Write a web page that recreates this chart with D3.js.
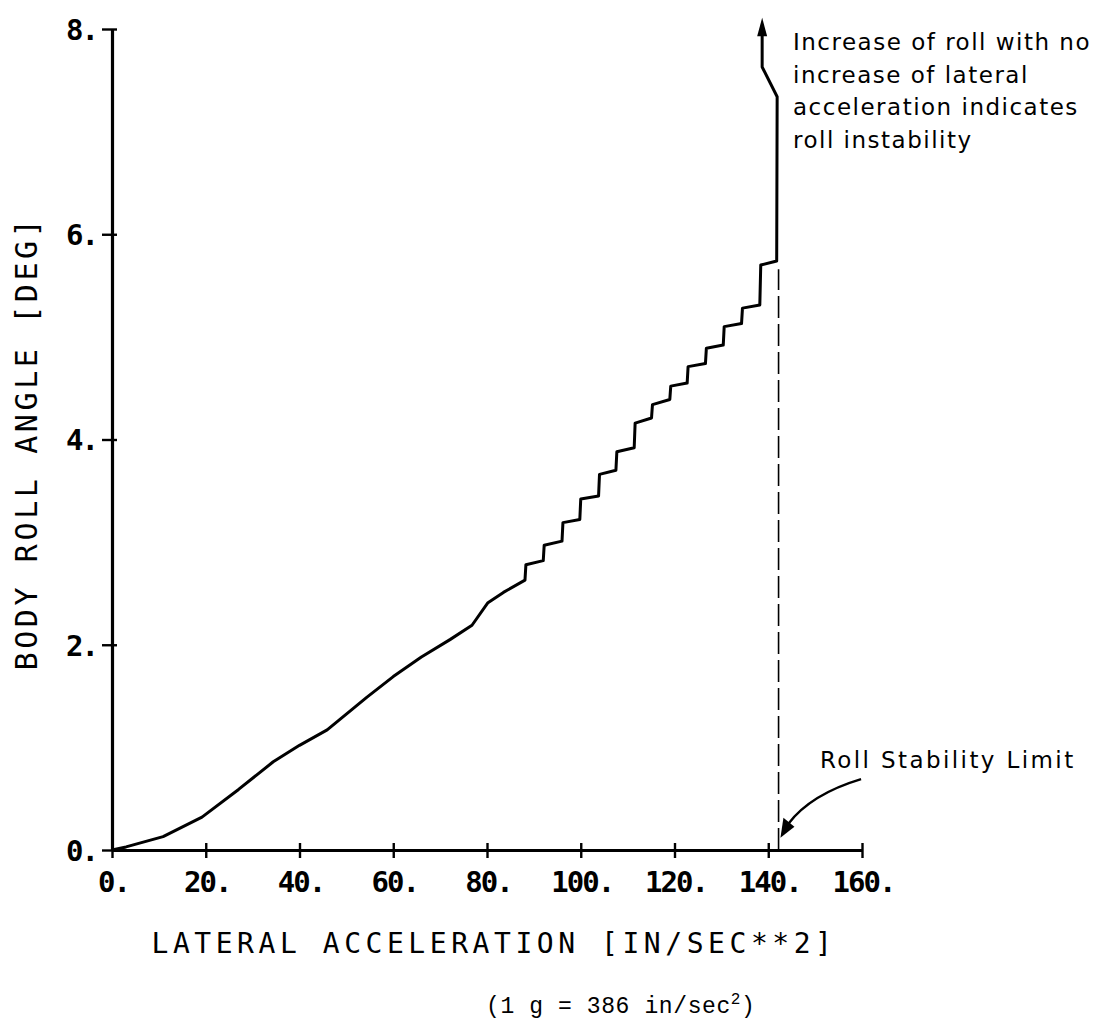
<!DOCTYPE html>
<html>
<head>
<meta charset="utf-8">
<script src="https://cdn.jsdelivr.net/npm/d3@7"></script>
<style>
  body { margin: 0; background: #fff; }
</style>
</head>
<body>
<div id="wrapper"></div>
<script>
// lateral acceleration (in/sec^2) and body roll angle (deg)
const accel = [0, 3, 10.9, 19.2, 27, 34.4, 40, 45.9, 54.4, 60, 66, 72.1, 76.8, 80.2, 83.5, 88.1,
    88.3, 92, 92.2, 96, 96.2, 99.8, 100, 103.8, 104, 107.5, 107.7, 111.4, 111.6, 115.1,
    115.3, 119, 119.2, 122.7, 122.9, 126.6, 126.8, 130.4, 130.6, 134.3, 134.5, 138.2,
    138.4, 141.8, 141.9, 138.7, 138.7];
const roll = [0, 0.03, 0.13, 0.32, 0.59, 0.86, 1.02, 1.17, 1.49, 1.69, 1.88, 2.05, 2.19, 2.41, 2.51, 2.63,
    2.78, 2.82, 2.97, 3.01, 3.19, 3.22, 3.42, 3.45, 3.66, 3.70, 3.88, 3.92, 4.16, 4.21,
    4.34, 4.39, 4.52, 4.55, 4.71, 4.74, 4.89, 4.92, 5.10, 5.13, 5.28, 5.31,
    5.70, 5.74, 7.34, 7.63, 7.95];
const arrowTip = 8.11;          // top of the arrowhead on the roll line
const stabilityLimit = 142.2;   // dashed line
const xTicks = [0, 20, 40, 60, 80, 100, 120, 140, 160];
const yTicks = [0, 2, 4, 6, 8];
const noteLines = ["Increase of roll with no", "increase of lateral", "acceleration indicates", "roll instability"];

const dimension = {
    width: 1095,
    height: 1032,
    margin: { top: 29, left: 112, bottom: 182, right: 233 }
};
dimension.boundedWidth = dimension.width - dimension.margin.left - dimension.margin.right;
dimension.boundedHeight = dimension.height - dimension.margin.top - dimension.margin.bottom;

const svg = d3.select("#wrapper").append("svg")
    .attr("width", dimension.width)
    .attr("height", dimension.height)
    .style("background", "#fff");

const bounded = svg.append("g")
    .attr("transform", `translate(${dimension.margin.left},${dimension.margin.top})`);

const xScaler = d3.scaleLinear().domain([0, 160]).range([0, dimension.boundedWidth]);
const yScaler = d3.scaleLinear().domain([0, 8]).range([dimension.boundedHeight, 0]);

const tickFont = "'DejaVu Sans Mono', monospace";

// x axis
const xAxis = bounded.append("g")
    .attr("transform", `translate(0,${dimension.boundedHeight})`)
    .call(d3.axisBottom(xScaler).tickValues(xTicks).tickSizeOuter(0).tickFormat(d => d + "."));
xAxis.select(".domain").attr("stroke", "#000").attr("stroke-width", 3.2);
xAxis.selectAll(".tick line").attr("y1", -7).attr("y2", 8).attr("stroke", "#000").attr("stroke-width", 2.4);
xAxis.selectAll(".tick text")
    .attr("y", 42).attr("dy", 0).attr("dx", 1)
    .attr("font-family", tickFont).attr("font-weight", "bold").attr("font-size", 29)
    .attr("letter-spacing", -2)
    .attr("fill", "#000");

// y axis
const yAxis = bounded.append("g")
    .call(d3.axisLeft(yScaler).tickValues(yTicks).tickSizeOuter(0).tickFormat(d => d + "."));
yAxis.select(".domain").attr("stroke", "#000").attr("stroke-width", 3.2);
yAxis.selectAll(".tick line").attr("x1", -10).attr("x2", 5).attr("stroke", "#000").attr("stroke-width", 2.4);
yAxis.selectAll(".tick text")
    .attr("x", -15).attr("dy", "0.36em")
    .attr("font-family", tickFont).attr("font-weight", "bold").attr("font-size", 29)
    .attr("letter-spacing", -2)
    .attr("fill", "#000");

// dashed roll stability limit
bounded.append("line")
    .attr("x1", xScaler(stabilityLimit)).attr("x2", xScaler(stabilityLimit))
    .attr("y1", yScaler(0)).attr("y2", yScaler(5.66))
    .attr("stroke", "#000").attr("stroke-width", 1.6)
    .attr("stroke-dasharray", "22,6");

// roll curve
const points = accel.map((a, i) => [a, roll[i]]);
const rollLine = d3.line()
    .x(d => xScaler(d[0]))
    .y(d => yScaler(d[1]));

bounded.append("path")
    .attr("d", rollLine(points))
    .attr("fill", "none")
    .attr("stroke", "#000")
    .attr("stroke-width", 3)
    .attr("stroke-linejoin", "round");

// arrowhead on top of the roll line
const last = points[points.length - 1];
const ax = xScaler(last[0]);
bounded.append("path")
    .attr("d", `M${ax},${yScaler(arrowTip)} L${ax - 5},${yScaler(last[1]) + 2} L${ax + 5},${yScaler(last[1]) + 2} Z`)
    .attr("fill", "#000");

// annotation text
const noteFont = "'DejaVu Sans', sans-serif";
const note = svg.append("text")
    .attr("font-family", noteFont).attr("font-size", 23)
    .attr("letter-spacing", 1.5)
    .attr("fill", "#000");
noteLines.forEach((t, i) => {
    note.append("tspan").attr("x", 793).attr("y", 50 + i * 32.5).text(t);
});

svg.append("text")
    .attr("x", 820).attr("y", 768)
    .attr("font-family", noteFont).attr("font-size", 23)
    .attr("letter-spacing", 2.4)
    .attr("fill", "#000")
    .text("Roll Stability Limit");

// curved arrow to the stability limit
const tip = [xScaler(142.6) + dimension.margin.left, yScaler(0.12) + dimension.margin.top];
const start = [xScaler(159.8) + dimension.margin.left, yScaler(0.69) + dimension.margin.top];
svg.append("path")
    .attr("d", `M${start[0]},${start[1]} Q${start[0] - 50},${start[1] + 15} ${tip[0] + 8},${tip[1] - 14}`)
    .attr("fill", "none").attr("stroke", "#000").attr("stroke-width", 2.4);
svg.append("path")
    .attr("d", `M${tip[0]},${tip[1]} L${tip[0] + 3},${tip[1] - 20} L${tip[0] + 14},${tip[1] - 11} Z`)
    .attr("fill", "#000");

// axis titles
svg.append("text")
    .attr("transform", "translate(37,443) rotate(-90)")
    .attr("text-anchor", "middle")
    .attr("font-family", tickFont).attr("font-size", 30)
    .attr("letter-spacing", 3.6)
    .attr("fill", "#000")
    .text("BODY ROLL ANGLE [DEG]");

svg.append("text")
    .attr("x", 494).attr("y", 953)
    .attr("text-anchor", "middle")
    .attr("font-family", tickFont).attr("font-size", 28)
    .attr("letter-spacing", 4.55)
    .attr("fill", "#000")
    .text("LATERAL ACCELERATION [IN/SEC**2]");

const gNote = svg.append("text")
    .attr("x", 486).attr("y", 1013)
    .attr("font-family", "'Liberation Mono', monospace").attr("font-size", 23)
    .attr("letter-spacing", 0.6)
    .attr("fill", "#000");
gNote.append("tspan").text("(1 g = 386 in/sec");
gNote.append("tspan").attr("dy", -9).attr("font-size", 16).text("2");
gNote.append("tspan").attr("dy", 9).text(")");
</script>
</body>
</html>
